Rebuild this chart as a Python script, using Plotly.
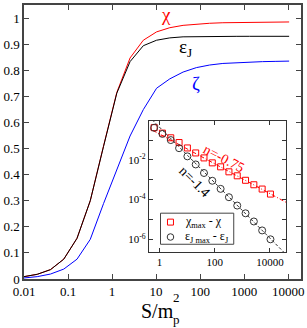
import plotly.graph_objects as go

# ---------------- data ----------------
S = [0.01, 0.02, 0.04, 0.08, 0.16, 0.32, 0.64, 1.28, 2.56, 5.12, 10.24,
     20.48, 40.96, 81.92, 163.84, 327.68, 655.36, 1310.72, 2621.44, 5242.88, 10485.76]
chi = [0.009, 0.018, 0.036, 0.076, 0.156, 0.300, 0.510, 0.715, 0.847, 0.915, 0.947,
       0.963, 0.972, 0.977, 0.980, 0.982, 0.983, 0.984, 0.9845, 0.985, 0.985]
epsJ = [0.009, 0.018, 0.036, 0.076, 0.156, 0.300, 0.508, 0.712, 0.833, 0.894, 0.915,
        0.924, 0.928, 0.929, 0.9296, 0.9298, 0.9299, 0.93, 0.93, 0.93, 0.93]
zeta = [0.004, 0.009, 0.019, 0.038, 0.076, 0.152, 0.289, 0.418, 0.548, 0.649, 0.731,
        0.767, 0.793, 0.810, 0.820, 0.826, 0.829, 0.831, 0.833, 0.834, 0.835]

S_in = [0.64, 1.28, 2.56, 5.12, 10.24, 20.48, 40.96, 81.92, 163.84, 327.68,
        655.36, 1310.72, 2621.44, 5242.88, 10485.76]
chi_diff = [0.422, 0.224, 0.130, 0.075, 0.040, 0.0224, 0.0126, 0.0071, 0.00447,
            0.00251, 0.00158, 0.00094, 0.00056, 0.00034, 0.00019]
eps_diff = [0.417, 0.204, 0.100, 0.039, 0.0151, 0.0059, 0.00219, 0.00089, 0.000347,
            0.000132, 5.0e-5, 2.04e-5, 7.9e-6, 2.8e-6, 1.0e-6]

fit_S = [0.3, 50000]
fit_chi = [0.50, 6.0e-5]
fit_eps = [2.4, 1.2e-7]

x_ticks = [0.01, 0.1, 1, 10, 100, 1000, 10000]
x_ticktext = ["0.01", "0.1", "1", "10", "100", "1000", "10000"]
y_ticks = [0, 0.1, 0.2, 0.3, 0.4, 0.5, 0.6, 0.7, 0.8, 0.9, 1.0]
y_ticktext = ["0", "0.1", "0.2", "0.3", "0.4", "0.5", "0.6", "0.7", "0.8", "0.9", "1"]
in_x_ticks = [1, 100, 10000]
in_x_ticktext = ["1", "100", "10000"]
in_y_ticks = [1e-1, 1e-2, 1e-3, 1e-4, 1e-5, 1e-6]
in_y_ticktext = [" ", "10<sup>-2</sup>", " ", "10<sup>-4</sup>", " ", "10<sup>-6</sup>"]

legend_labels = ["χ<sub>max</sub> - χ", "ε<sub>J max</sub> - ε<sub>J</sub>"]

SERIF = "Liberation Serif, Times New Roman, Times, serif"
RED = "#ff0000"
BLUE = "#0000ff"
BLACK = "#000000"
DARK = "#333333"

fig = go.Figure()

# main curves
fig.add_trace(go.Scatter(x=S, y=chi, mode="lines", line=dict(color=RED, width=1),
                         showlegend=False, xaxis="x", yaxis="y"))
fig.add_trace(go.Scatter(x=S, y=zeta, mode="lines", line=dict(color=BLUE, width=1),
                         showlegend=False, xaxis="x", yaxis="y"))
fig.add_trace(go.Scatter(x=S, y=epsJ, mode="lines", line=dict(color=BLACK, width=1),
                         showlegend=False, xaxis="x", yaxis="y"))

# inset fits
fig.add_trace(go.Scatter(x=fit_S, y=fit_chi, mode="lines",
                         line=dict(color=RED, width=1, dash="4px,2px,1px,2px"),
                         showlegend=False, xaxis="x2", yaxis="y2"))
fig.add_trace(go.Scatter(x=fit_S, y=fit_eps, mode="lines",
                         line=dict(color=DARK, width=1, dash="3px,2px"),
                         showlegend=False, xaxis="x2", yaxis="y2"))
# inset points
fig.add_trace(go.Scatter(x=S_in, y=chi_diff, mode="markers",
                         marker=dict(symbol="square-open", size=6, color=RED, line=dict(width=1)),
                         showlegend=False, xaxis="x2", yaxis="y2"))
fig.add_trace(go.Scatter(x=S_in, y=eps_diff, mode="markers",
                         marker=dict(symbol="circle-open", size=7, color=DARK, line=dict(width=1)),
                         showlegend=False, xaxis="x2", yaxis="y2"))

axis_common = dict(showline=True, linecolor="#444444", linewidth=1.5, mirror="ticks",
                   ticks="inside", tickcolor="#444444", showgrid=False, zeroline=False,
                   tickfont=dict(family=SERIF, size=13, color="black"))
inset_common = dict(showline=True, linecolor=DARK, linewidth=1.2, mirror="ticks",
                    ticks="inside", tickcolor=DARK, showgrid=False, zeroline=False,
                    tickfont=dict(family=SERIF, size=11, color="black"))


def px_x(v):
    return (v - 23) / 278.0


def px_y(v):
    return (279 - v) / 276.0


shapes = [
    dict(type="rect", xref="x2 domain", yref="y2 domain", x0=0, x1=1, y0=0, y1=1,
         fillcolor="white", line=dict(width=0), layer="below"),
    # hand-made legend box
    dict(type="rect", xref="paper", yref="paper", x0=px_x(160), x1=px_x(233.5),
         y0=px_y(244), y1=px_y(212.7), fillcolor="white",
         line=dict(color="#444444", width=1), layer="above"),
    dict(type="rect", xref="paper", yref="paper", x0=px_x(167), x1=px_x(173),
         y0=px_y(224.7), y1=px_y(218.7), line=dict(color=RED, width=1), layer="above"),
    dict(type="circle", xref="paper", yref="paper", x0=px_x(166.7), x1=px_x(173.3),
         y0=px_y(240), y1=px_y(233.4), line=dict(color=DARK, width=1), layer="above"),
]

fig.update_layout(
    width=307, height=328,
    margin=dict(l=23, r=6, t=3, b=49),
    paper_bgcolor="white", plot_bgcolor="white",
    showlegend=False,
    xaxis=dict(type="log", range=[-2, 4.29], domain=[0, 1], anchor="y",
               tickvals=x_ticks, ticktext=x_ticktext, ticklen=5, **axis_common),
    yaxis=dict(range=[0, 1.05], domain=[0, 1], anchor="x",
               tickvals=y_ticks, ticktext=y_ticktext, ticklen=5, **axis_common),
    xaxis2=dict(type="log", range=[-0.386, 4.585], domain=[0.4507, 0.946], anchor="y2",
                tickvals=in_x_ticks, ticktext=in_x_ticktext, ticklen=4, **inset_common),
    yaxis2=dict(type="log", range=[-6.635, -0.035], domain=[0.0989, 0.577], anchor="x2",
                tickvals=in_y_ticks, ticktext=in_y_ticktext, ticklen=4, **inset_common),
    shapes=shapes,
    annotations=[
        dict(x=1.224, y=1.012, xref="x", yref="y", text="χ", showarrow=False,
             font=dict(family=SERIF, size=19, color=RED)),
        dict(x=1.676, y=0.885, xref="x", yref="y", text="ε<sub>J</sub>", showarrow=False,
             font=dict(family=SERIF, size=19, color=BLACK)),
        dict(x=1.90, y=0.749, xref="x", yref="y", text="ζ", showarrow=False,
             font=dict(family=SERIF, size=19, color=BLUE)),
        dict(x=2.33, y=-1.92, xref="x2", yref="y2", text="n=-0.75", showarrow=False,
             textangle=28, font=dict(family=SERIF, size=14, color=RED)),
        dict(x=1.26, y=-3.1, xref="x2", yref="y2", text="n=-1.4", showarrow=False,
             textangle=45, font=dict(family=SERIF, size=14, color=BLACK)),
        dict(x=px_x(183), y=px_y(221.7), xref="paper", yref="paper", text=legend_labels[0],
             showarrow=False, xanchor="left", yanchor="middle",
             font=dict(family=SERIF, size=12, color="black")),
        dict(x=px_x(183), y=px_y(236.7), xref="paper", yref="paper", text=legend_labels[1],
             showarrow=False, xanchor="left", yanchor="middle",
             font=dict(family=SERIF, size=12, color="black")),
        dict(x=px_x(156.7), y=px_y(311), xref="paper", yref="paper", text="S/m", showarrow=False,
             xanchor="center", yanchor="middle",
             font=dict(family=SERIF, size=20, color="black")),
        dict(x=px_x(176), y=px_y(298), xref="paper", yref="paper", text="2", showarrow=False,
             xanchor="center", yanchor="middle",
             font=dict(family=SERIF, size=13, color="black")),
        dict(x=px_x(176), y=px_y(320), xref="paper", yref="paper", text="p", showarrow=False,
             xanchor="center", yanchor="middle",
             font=dict(family=SERIF, size=13, color="black")),
    ],
)

fig.write_html("out.html",
               config={"displayModeBar": False},
               post_script="document.body.style.margin='0px';document.body.style.padding='0px';"
                           "document.documentElement.style.overflow='hidden';")
